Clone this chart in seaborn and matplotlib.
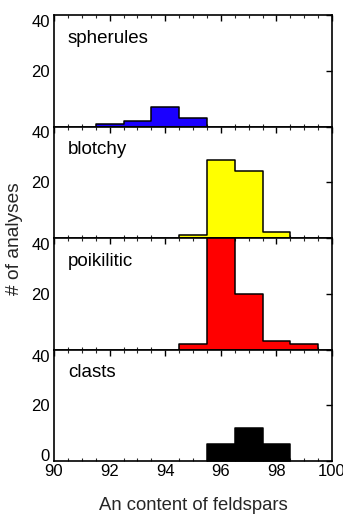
import matplotlib
matplotlib.use("Agg")
import matplotlib.pyplot as plt
import seaborn as sns
import numpy as np
import pandas as pd
from matplotlib.ticker import MultipleLocator

sns.set_theme(style="white")
plt.rcParams['font.family'] = ['Liberation Sans', 'DejaVu Sans']

# Data (bin centres = An content, counts per 1-unit bin)
panel_names = ["spherules", "blotchy", "poikilitic", "clasts"]
panel_colors = ["#1a00ff", "#ffff00", "#ff0000", "#000000"]
spherules_x = [92, 93, 94, 95]
spherules_n = [1, 2, 7, 3]
blotchy_x = [95, 96, 97, 98]
blotchy_n = [1, 28, 24, 2]
poikilitic_x = [95, 96, 97, 98, 99]
poikilitic_n = [2, 48, 20, 3, 2]
clasts_x = [96, 97, 98]
clasts_n = [6, 12, 6]
x_ticks = [90, 92, 94, 96, 98, 100]
y_ticks = [0, 20, 40]

series = [(spherules_x, spherules_n), (blotchy_x, blotchy_n),
          (poikilitic_x, poikilitic_n), (clasts_x, clasts_n)]

fig = plt.figure(figsize=(3.43, 5.14), dpi=100)
gs = fig.add_gridspec(4, 1, left=54/343, right=332/343, top=1-15/514,
                      bottom=1-461/514, hspace=0)

for i, (name, color, (xs, ns)) in enumerate(zip(panel_names, panel_colors, series)):
    ax = fig.add_subplot(gs[i, 0])
    df = pd.DataFrame({"An": np.array(xs, dtype=float), "n": np.array(ns, dtype=float)})
    sns.histplot(data=df, x="An", weights="n", binwidth=1.0,
                 binrange=(min(xs) - 0.5, max(xs) + 0.5), ax=ax, element="step",
                 color=color, alpha=1, edgecolor="black", linewidth=1.1)
    ax.set_xlim(90, 100)
    ax.set_ylim(0, 40)
    ax.set_ylabel("")
    ax.set_xlabel("")
    ax.xaxis.set_major_locator(MultipleLocator(2))
    ax.xaxis.set_minor_locator(MultipleLocator(0.5))
    if i < 3:
        ax.set_yticks([20, 40])
        ax.set_xticklabels([])
    else:
        ax.set_yticks(y_ticks)
        ax.set_xticks(x_ticks)
        ax.set_xticklabels([str(v) for v in x_ticks])
    ax.tick_params(axis="both", which="major", direction="in", length=4, width=1,
                   top=True, right=True, labelsize=12, pad=3, colors="black")
    ax.tick_params(axis="x", which="major", pad=2)
    ax.tick_params(axis="x", which="minor", direction="in", length=2, width=0.8,
                   top=True, bottom=True)
    for lbl, v in zip(ax.get_yticklabels(), ax.get_yticks()):
        if v == 40:
            lbl.set_va("top")
        elif v == 0:
            lbl.set_va("baseline")
    for s in ax.spines.values():
        s.set_color("black")
        s.set_linewidth(1.2)
    ax.text(0.05, 0.79, name, transform=ax.transAxes, fontsize=13.5,
            ha="left", va="center", color="black")
    ax.grid(False)
    if i == 3:
        ax.set_xlabel("An content of feldspars", fontsize=13.3, labelpad=13)

fig.text(15/343, 1-239/514, "# of analyses", rotation=90, fontsize=13.8,
         ha="center", va="center")

fig.savefig("out.png", dpi=100)
